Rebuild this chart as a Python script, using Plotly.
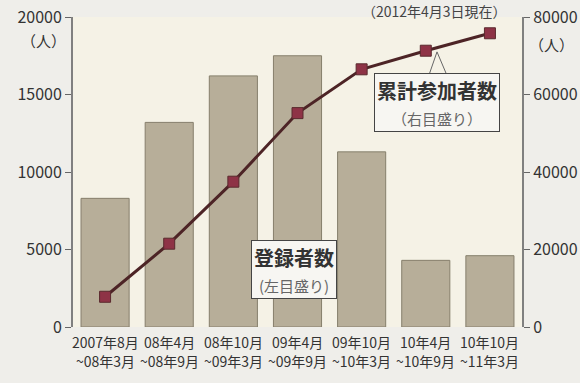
import plotly.graph_objects as go

label_line1 = ["2007年8月", "08年4月", "08年10月", "09年4月", "09年10月", "10年4月", "10年10月"]
label_line2 = ["~08年3月", "~08年9月", "~09年3月", "~09年9月", "~10年3月", "~10年9月", "~11年3月"]
registrants = [8300, 13200, 16200, 17500, 11300, 4300, 4600]
cumulative = [7800, 21500, 37500, 55200, 66500, 71300, 75800]
left_ticks = [0, 5000, 10000, 15000, 20000]
right_ticks = [0, 20000, 40000, 60000, 80000]

FONT = "Noto Sans CJK JP"
idx = list(range(len(label_line1)))

fig = go.Figure()
fig.add_trace(go.Bar(
    x=idx, y=registrants, width=0.75,
    marker=dict(color="#b7ae99", line=dict(color="#867f6c", width=1)),
    yaxis="y", showlegend=False, hoverinfo="skip"))
fig.add_trace(go.Scatter(
    x=idx, y=cumulative, mode="lines+markers", yaxis="y2",
    line=dict(color="#4d2426", width=3),
    marker=dict(symbol="square", size=11, color="#8e3346",
                line=dict(color="#5a2a2e", width=1)),
    showlegend=False, hoverinfo="skip"))

fig.update_layout(
    width=580, height=383,
    margin=dict(l=73, r=58, t=17, b=56),
    paper_bgcolor="#efeeea", plot_bgcolor="#f5f2e6",
    font=dict(family=FONT, color="#333333"),
    bargap=0.25,
    xaxis=dict(range=[-0.5, 6.5], tickmode="array", tickvals=idx, showticklabels=False,
               automargin=False, showgrid=False, zeroline=False, showline=False, ticks=""),
    yaxis=dict(range=[0, 20000], tickmode="array", tickvals=left_ticks,
               ticktext=[str(v) for v in left_ticks], showgrid=False, zeroline=False,
               automargin=False, showline=True, linecolor="#808080", linewidth=2,
               ticks="outside", ticklen=6, tickcolor="#666666", tickwidth=1,
               tickfont=dict(size=16, color="#333333", family=FONT)),
    yaxis2=dict(range=[0, 80000], tickmode="array", tickvals=right_ticks,
                ticktext=[str(v) for v in right_ticks], overlaying="y", side="right",
                automargin=False, showgrid=False, zeroline=False, showline=True,
                linecolor="#808080", linewidth=2, ticks="outside", ticklen=6,
                tickcolor="#666666", tickwidth=1,
                tickfont=dict(size=16, color="#333333", family=FONT)),
)

ann = []
for i in idx:
    ann.append(dict(xref="x", yref="paper", x=i, y=-0.048, xanchor="center", yanchor="middle",
                    text=label_line1[i], showarrow=False,
                    font=dict(size=14, color="#333333", family=FONT)))
    ann.append(dict(xref="x", yref="paper", x=i, y=-0.11, xanchor="center", yanchor="middle",
                    text=label_line2[i], showarrow=False,
                    font=dict(size=14, color="#333333", family=FONT)))
ann.append(dict(xref="paper", yref="paper", x=0.805, y=1.02, xanchor="center", yanchor="middle",
                text="（2012年4月3日現在）", showarrow=False,
                font=dict(size=14, color="#444444", family=FONT)))
ann.append(dict(xref="paper", yref="paper", x=-0.065, y=0.925, xanchor="center", yanchor="middle",
                text="（人）", showarrow=False, font=dict(size=15, color="#333333", family=FONT)))
ann.append(dict(xref="paper", yref="paper", x=1.065, y=0.91, xanchor="center", yanchor="middle",
                text="（人）", showarrow=False, font=dict(size=15, color="#333333", family=FONT)))
ann.append(dict(xref="x", yref="y", x=2.945, y=3680, xanchor="center", yanchor="middle",
                text="<b>登録者数</b><br><span style='font-size:15px;color:#666'>(左目盛り)</span>",
                showarrow=False, bgcolor="#f7f6f2", bordercolor="#444444", borderwidth=1,
                borderpad=2, font=dict(size=20, color="#333333", family=FONT)))
for dx in (-9, 11):
    ann.append(dict(xref="x", yref="y2", x=5.175, y=71000, ax=dx, ay=26,
                    showarrow=True, arrowhead=0, arrowwidth=1, arrowcolor="#666666", text=""))
ann.append(dict(xref="x", yref="y2", x=5.175, y=58000, xanchor="center", yanchor="middle",
                text="<b>累計参加者数</b><br><span style='font-size:15px;color:#666'>（右目盛り）</span>",
                showarrow=False, bgcolor="#f7f6f2", bordercolor="#444444", borderwidth=1,
                borderpad=2, font=dict(size=20, color="#333333", family=FONT)))
fig.update_layout(annotations=ann)

fig.write_html("out.html")
